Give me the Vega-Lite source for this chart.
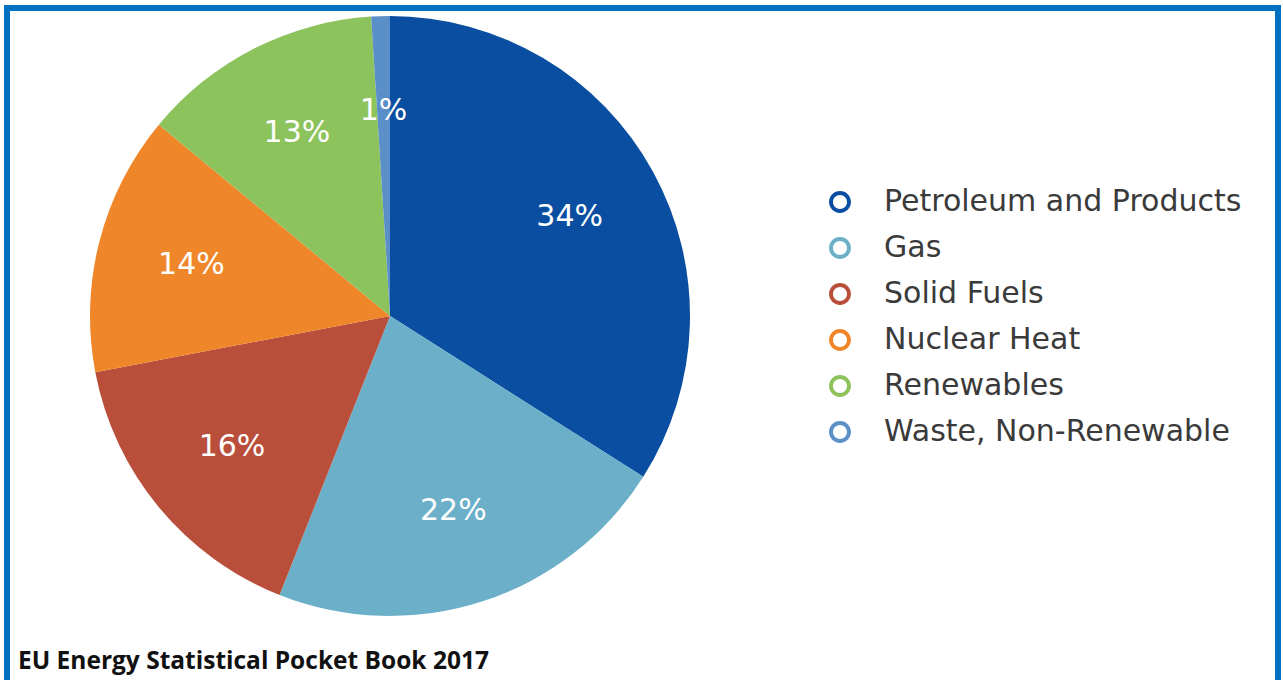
{
  "$schema": "https://vega.github.io/schema/vega-lite/v6.json",
  "width": 1283,
  "height": 680,
  "autosize": {"type": "fit", "contains": "padding"},
  "padding": {"left": 7, "top": 8, "right": 5, "bottom": -4},
  "background": "white",
  "config": {
    "view": {"stroke": "#0070C0", "strokeWidth": 6, "fill": "white"}
  },
  "title": {
    "text": "EU Energy Statistical Pocket Book 2017",
    "orient": "bottom",
    "anchor": "start",
    "frame": "group",
    "offset": -34,
    "dx": 11,
    "font": "Open Sans",
    "fontSize": 24.5,
    "fontWeight": "bold",
    "color": "#111111"
  },
  "data": {
    "values": [
      {"source": "Petroleum and Products", "share": 34, "order": 1, "label": "34%"},
      {"source": "Gas", "share": 22, "order": 2, "label": "22%"},
      {"source": "Solid Fuels", "share": 16, "order": 3, "label": "16%"},
      {"source": "Nuclear Heat", "share": 14, "order": 4, "label": "14%"},
      {"source": "Renewables", "share": 13, "order": 5, "label": "13%"},
      {"source": "Waste, Non-Renewable", "share": 1, "order": 6, "label": "1%"}
    ]
  },
  "encoding": {
    "theta": {"field": "share", "type": "quantitative", "stack": true},
    "order": {"field": "order", "type": "quantitative"},
    "x": {"value": 383},
    "y": {"value": 308}
  },
  "layer": [
    {
      "mark": {"type": "arc", "outerRadius": 300},
      "encoding": {
        "color": {
          "field": "source",
          "type": "nominal",
          "sort": ["Petroleum and Products", "Gas", "Solid Fuels", "Nuclear Heat", "Renewables", "Waste, Non-Renewable"],
          "scale": {
            "domain": ["Petroleum and Products", "Gas", "Solid Fuels", "Nuclear Heat", "Renewables", "Waste, Non-Renewable"],
            "range": ["#0A4EA2", "#6BB0C8", "#B94F3B", "#F0862A", "#8DC35C", "#5B8FC8"]
          },
          "legend": {
            "title": null,
            "orient": "none",
            "legendX": 818,
            "legendY": 179,
            "symbolType": "M -1 0 A 1 1 0 1 0 1 0 A 1 1 0 1 0 -1 0 Z M -0.64 0 A 0.64 0.64 0 1 1 0.64 0 A 0.64 0.64 0 1 1 -0.64 0 Z",
            "symbolSize": 480,
            "symbolStrokeWidth": 0,
            "labelFont": "DejaVu Sans",
            "labelFontSize": 30,
            "labelColor": "#3a3a3a",
            "labelOffset": 29,
            "labelLimit": 520,
            "rowPadding": 16,
            "symbolOffset": 0
          }
        }
      }
    },
    {
      "mark": {"type": "text", "radius": 205, "font": "DejaVu Sans", "fontSize": 30, "fill": "white", "align": "center", "baseline": "middle"},
      "encoding": {
        "text": {"field": "label", "type": "nominal"}
      }
    }
  ]
}
